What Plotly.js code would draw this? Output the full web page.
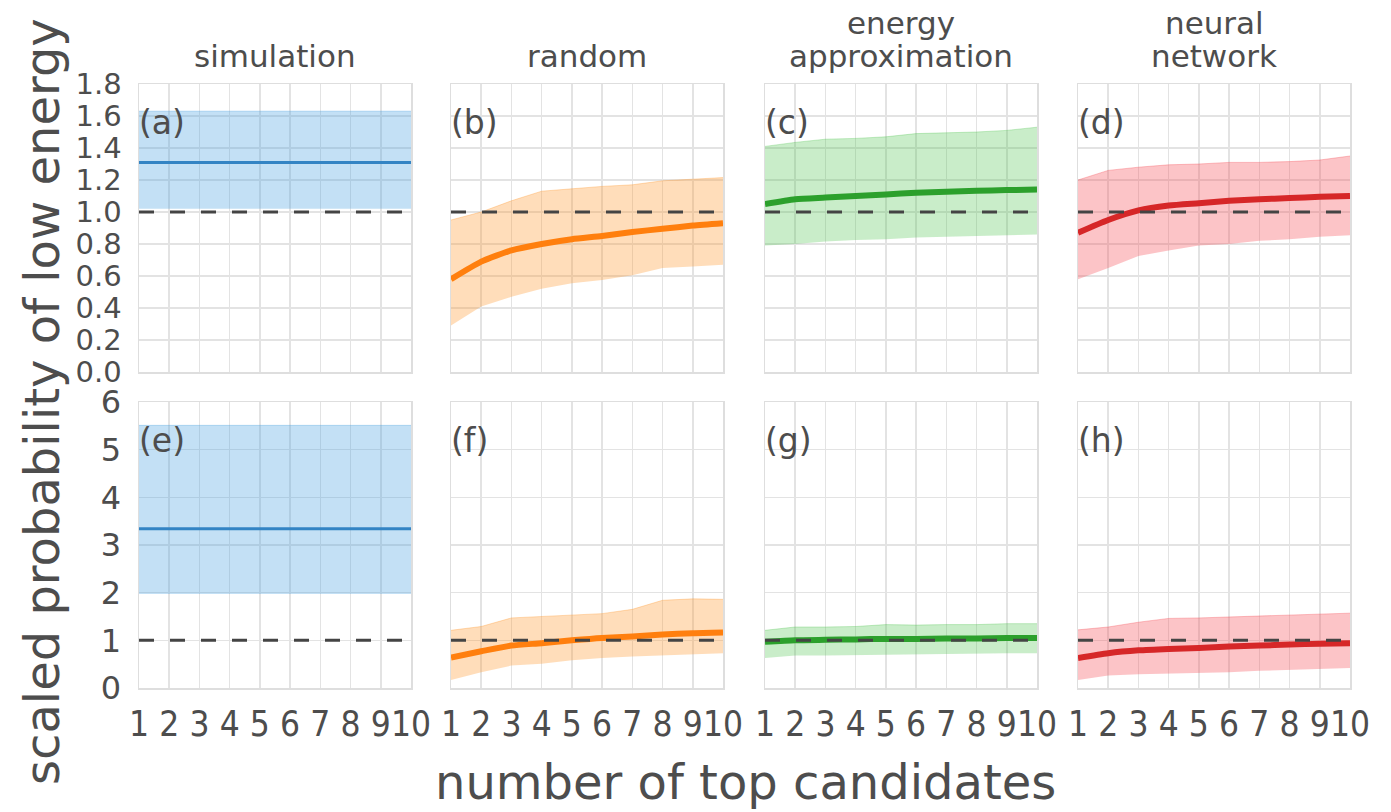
<!DOCTYPE html>
<html>
<head>
<meta charset="utf-8">
<script src="https://cdn.plot.ly/plotly-3.0.1.min.js"></script>
<style>
  html, body { margin: 0; padding: 0; background: #fff; }
  #chart { width: 1391px; height: 812px; }
</style>
</head>
<body>
<div id="chart"></div>
<script>
// number of top candidates
const candidates = [1, 2, 3, 4, 5, 6, 7, 8, 9, 10];

// reference level (scaled probability = 1)
const baseline = [1, 1, 1, 1, 1, 1, 1, 1, 1, 1];

// ---- top row ----
const simTopMean = [1.31, 1.31, 1.31, 1.31, 1.31, 1.31, 1.31, 1.31, 1.31, 1.31];
const simTopLow  = [1.02, 1.02, 1.02, 1.02, 1.02, 1.02, 1.02, 1.02, 1.02, 1.02];
const simTopHigh = [1.63, 1.63, 1.63, 1.63, 1.63, 1.63, 1.63, 1.63, 1.63, 1.63];

const randTopMean = [0.58, 0.69, 0.76, 0.80, 0.83, 0.85, 0.875, 0.895, 0.915, 0.93];
const randTopLow  = [0.29, 0.41, 0.47, 0.52, 0.555, 0.575, 0.605, 0.65, 0.66, 0.67];
const randTopHigh = [0.95, 1.00, 1.07, 1.13, 1.145, 1.16, 1.17, 1.195, 1.205, 1.215];

const enerTopMean = [1.05, 1.08, 1.09, 1.10, 1.11, 1.12, 1.127, 1.133, 1.137, 1.14];
const enerTopLow  = [0.79, 0.80, 0.815, 0.825, 0.83, 0.84, 0.845, 0.85, 0.855, 0.86];
const enerTopHigh = [1.41, 1.435, 1.455, 1.46, 1.47, 1.49, 1.495, 1.50, 1.51, 1.53];

const nnTopMean = [0.87, 0.95, 1.01, 1.04, 1.055, 1.07, 1.08, 1.087, 1.095, 1.10];
const nnTopLow  = [0.58, 0.65, 0.725, 0.76, 0.79, 0.80, 0.82, 0.83, 0.845, 0.855];
const nnTopHigh = [1.20, 1.26, 1.28, 1.295, 1.30, 1.31, 1.31, 1.315, 1.325, 1.35];

// ---- bottom row ----
const simBotMean = [3.34, 3.34, 3.34, 3.34, 3.34, 3.34, 3.34, 3.34, 3.34, 3.34];
const simBotLow  = [1.97, 1.97, 1.97, 1.97, 1.97, 1.97, 1.97, 1.97, 1.97, 1.97];
const simBotHigh = [5.51, 5.51, 5.51, 5.51, 5.51, 5.51, 5.51, 5.51, 5.51, 5.51];

const randBotMean = [0.64, 0.77, 0.89, 0.94, 1.00, 1.05, 1.08, 1.12, 1.15, 1.165];
const randBotLow  = [0.17, 0.33, 0.47, 0.51, 0.58, 0.63, 0.66, 0.68, 0.71, 0.73];
const randBotHigh = [1.21, 1.29, 1.47, 1.50, 1.52, 1.56, 1.65, 1.84, 1.87, 1.86];

const enerBotMean = [0.97, 1.00, 1.01, 1.02, 1.03, 1.03, 1.04, 1.04, 1.05, 1.05];
const enerBotLow  = [0.63, 0.68, 0.68, 0.69, 0.70, 0.71, 0.71, 0.72, 0.73, 0.73];
const enerBotHigh = [1.21, 1.28, 1.28, 1.29, 1.33, 1.32, 1.33, 1.33, 1.35, 1.35];

const nnBotMean = [0.63, 0.73, 0.79, 0.82, 0.84, 0.87, 0.89, 0.91, 0.93, 0.94];
const nnBotLow  = [0.17, 0.26, 0.29, 0.30, 0.31, 0.33, 0.36, 0.38, 0.40, 0.42];
const nnBotHigh = [1.22, 1.28, 1.38, 1.46, 1.47, 1.49, 1.50, 1.53, 1.55, 1.57];

// column headings (one entry per line) and panel tags
const columnTitles = [["simulation"], ["random"], ["energy", "approximation"], ["neural", "network"]];
const panelTags = ["(a)", "(b)", "(c)", "(d)", "(e)", "(f)", "(g)", "(h)"];
const topTickVals = [0, 0.2, 0.4, 0.6, 0.8, 1.0, 1.2, 1.4, 1.6, 1.8];
const botTickVals = [0, 1, 2, 3, 4, 5, 6];

const palette = {
  blue:   { line: "#3384c4", band: "rgba(80,165,225,0.34)" },
  orange: { line: "#ff7f0e", band: "rgba(255,150,40,0.32)" },
  green:  { line: "#2ca02c", band: "rgba(60,190,60,0.28)" },
  red:    { line: "#d62728", band: "rgba(245,70,80,0.32)" }
};

const panels = [
  { mean: simTopMean,  low: simTopLow,  high: simTopHigh,  col: palette.blue,   w: 3 },
  { mean: randTopMean, low: randTopLow, high: randTopHigh, col: palette.orange, w: 6 },
  { mean: enerTopMean, low: enerTopLow, high: enerTopHigh, col: palette.green,  w: 6 },
  { mean: nnTopMean,   low: nnTopLow,   high: nnTopHigh,   col: palette.red,    w: 6 },
  { mean: simBotMean,  low: simBotLow,  high: simBotHigh,  col: palette.blue,   w: 3 },
  { mean: randBotMean, low: randBotLow, high: randBotHigh, col: palette.orange, w: 6 },
  { mean: enerBotMean, low: enerBotLow, high: enerBotHigh, col: palette.green,  w: 6 },
  { mean: nnBotMean,   low: nnBotLow,   high: nnBotHigh,   col: palette.red,    w: 6 }
];

const W = 1391, H = 812;
const colPx = [[139, 411], [451, 723], [765, 1037], [1078, 1350]];
const rowPx = [[84, 372], [402, 688]];

const FONT = "DejaVu Sans, Verdana, sans-serif";
const NARROW = "DejaVu Sans Condensed, DejaVu Sans, sans-serif";
const TEXT = "#4d4d4d";

const traces = [];
const layout = {
  width: W, height: H,
  margin: { l: 0, r: 0, t: 0, b: 0 },
  paper_bgcolor: "#ffffff",
  plot_bgcolor: "#ffffff",
  showlegend: false,
  font: { family: FONT, color: TEXT },
  annotations: []
};

panels.forEach((p, i) => {
  const n = i + 1;
  const sfx = n === 1 ? "" : String(n);
  const xa = "x" + sfx, ya = "y" + sfx;
  const row = i < 4 ? 0 : 1, col = i % 4;

  traces.push({
    x: candidates, y: p.low, xaxis: xa, yaxis: ya, type: "scatter", mode: "lines",
    line: { width: 0, color: p.col.band }, hoverinfo: "skip"
  });
  traces.push({
    x: candidates, y: p.high, xaxis: xa, yaxis: ya, type: "scatter", mode: "lines",
    fill: "tonexty", fillcolor: p.col.band,
    line: { width: 1, color: p.col.band }, hoverinfo: "skip"
  });
  traces.push({
    x: candidates, y: p.mean, xaxis: xa, yaxis: ya, type: "scatter", mode: "lines",
    line: { width: p.w, color: p.col.line, shape: "spline", smoothing: 0.6 }
  });
  traces.push({
    x: candidates, y: baseline, xaxis: xa, yaxis: ya, type: "scatter", mode: "lines",
    line: { width: 3, color: "#444444", dash: "15px,16px" }
  });

  const xd = [colPx[col][0] / W, colPx[col][1] / W];
  const yd = [1 - rowPx[row][1] / H, 1 - rowPx[row][0] / H];

  layout["xaxis" + sfx] = {
    domain: xd, anchor: ya, range: [1, 10],
    tickvals: candidates, ticktext: candidates.map(String),
    showticklabels: row === 1, tickangle: 0,
    tickfont: { size: 35, family: NARROW, color: TEXT },
    ticks: "", ticklabelstandoff: 4,
    showgrid: true, gridcolor: "#e3e3e3", gridwidth: 1.5,
    showline: true, linecolor: "#dedede", linewidth: 1.5, mirror: true,
    zeroline: false, fixedrange: true
  };
  layout["yaxis" + sfx] = {
    domain: yd, anchor: xa,
    range: row === 0 ? [0, 1.8] : [0, 6],
    tickvals: row === 0 ? topTickVals : botTickVals,
    tickformat: row === 0 ? ".1f" : "d",
    showticklabels: col === 0,
    tickfont: { size: row === 0 ? 29 : 32, family: FONT, color: TEXT },
    ticks: "", ticklabelstandoff: 10,
    showgrid: true, gridcolor: "#e3e3e3", gridwidth: 1.5,
    showline: true, linecolor: "#dedede", linewidth: 1.5, mirror: true,
    zeroline: false, fixedrange: true
  };

  layout.annotations.push({
    text: panelTags[i], xref: xa + " domain", yref: ya + " domain",
    x: 0, y: 1, xanchor: "left", yanchor: "top", xshift: -2, yshift: -17,
    showarrow: false, font: { size: 33, family: FONT, color: TEXT }
  });
});

// column headings above the top row, written line by line from the bottom up
columnTitles.forEach((lines, c) => {
  lines.slice().reverse().forEach((t, k) => {
    layout.annotations.push({
      text: t, xref: "paper", yref: "paper",
      x: (colPx[c][0] + colPx[c][1]) / 2 / W, y: 1 - (76 - 33 * k) / H,
      xanchor: "center", yanchor: "bottom", showarrow: false,
      font: { size: 31, family: FONT, color: TEXT }
    });
  });
});

// shared axis titles
layout.annotations.push({
  text: "number of top candidates", xref: "paper", yref: "paper",
  x: 745 / W, y: 1 - 782 / H, xanchor: "center", yanchor: "middle",
  showarrow: false, font: { size: 48, family: FONT, color: TEXT }
});
layout.annotations.push({
  text: "scaled probability of low energy", xref: "paper", yref: "paper",
  x: 42 / W, y: 1 - 402 / H, xanchor: "center", yanchor: "middle", textangle: -90,
  showarrow: false, font: { size: 48, family: FONT, color: TEXT }
});

Plotly.newPlot("chart", traces, layout, { staticPlot: true, displayModeBar: false });
</script>
</body>
</html>
